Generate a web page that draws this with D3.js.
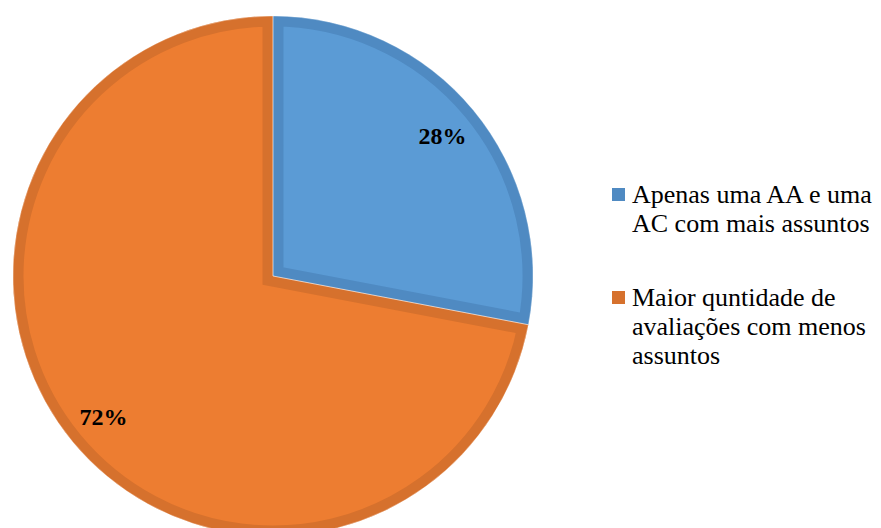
<!DOCTYPE html>
<html>
<head>
<meta charset="utf-8">
<script src="https://cdn.jsdelivr.net/npm/d3@7"></script>
<style>
  html, body { margin: 0; padding: 0; background: #ffffff; }
  svg { display: block; }
</style>
</head>
<body>
<svg id="chart" width="881" height="528"></svg>
<script>
// Share of respondents per assessment approach
const categories = ["Apenas uma AA e uma AC com mais assuntos", "Maior quntidade de avaliações com menos assuntos"];
const values = [28, 72];
// Legend text broken into the lines it is drawn on
const legendLines = [
  ["Apenas uma AA e uma", "AC com mais assuntos"],
  ["Maior quntidade de", "avaliações com menos", "assuntos"]
];
const fills = ["#5b9bd5", "#ed7d31"];
const borders = ["#4f8ac2", "#d6712d"];

// Pick the first installed Times-like face
function pickFont(candidates, fallback) {
  const ctx = document.createElement("canvas").getContext("2d");
  const sample = "Apenas uma AA e uma 28% avaliações";
  for (const bases of ["monospace", "sans-serif"]) {
    ctx.font = `40px ${bases}`;
    const base = ctx.measureText(sample).width;
    for (const f of candidates) {
      ctx.font = `40px "${f}", ${bases}`;
      if (Math.abs(ctx.measureText(sample).width - base) > 0.5) return `"${f}", serif`;
    }
  }
  return fallback;
}
const serif = pickFont(["Liberation Serif", "Times New Roman", "Tinos", "DejaVu Serif", "Noto Serif", "FreeSerif"], "serif");

const svg = d3.select("#chart");
const cx = 273, cy = 276, R = 260;

const pie = d3.pie().sort(null).value(d => d)(values);
const arc = d3.arc().innerRadius(0).outerRadius(R);
const labelArc = d3.arc().innerRadius(220).outerRadius(220);

const g = svg.append("g").attr("transform", `translate(${cx},${cy})`);
const defs = svg.append("defs");

pie.forEach((p, i) => {
  defs.append("clipPath").attr("id", "slice-clip-" + i)
    .append("path").attr("d", arc(p));
});

// Each slice: flat fill with a darker inner border (stroke clipped to the slice)
g.selectAll("path.slice")
  .data(pie)
  .join("path")
  .attr("class", "slice")
  .attr("d", arc)
  .attr("fill", (d, i) => fills[i])
  .attr("stroke", (d, i) => borders[i])
  .attr("stroke-width", 21)
  .attr("stroke-linejoin", "miter")
  .attr("clip-path", (d, i) => `url(#slice-clip-${i})`);

// Faint highlight along the slice edges
g.selectAll("path.edge")
  .data(pie)
  .join("path")
  .attr("class", "edge")
  .attr("d", arc)
  .attr("fill", "none")
  .attr("stroke", "#ffffff")
  .attr("stroke-opacity", 0.35)
  .attr("stroke-width", 1);

// Percentage labels
g.selectAll("text.value")
  .data(pie)
  .join("text")
  .attr("class", "value")
  .attr("transform", d => `translate(${labelArc.centroid(d)})`)
  .attr("text-anchor", "middle")
  .attr("dy", "0.35em")
  .style("font-family", serif)
  .style("font-weight", "bold")
  .style("font-size", "24px")
  .attr("fill", "#000000")
  .text(d => d.data + "%");

// Legend
const legend = svg.append("g").attr("transform", "translate(612,0)");
const legendTop = [203, 306];
const lineH = 29;
categories.forEach((c, i) => {
  const item = legend.append("g");
  item.append("rect")
    .attr("x", 0)
    .attr("y", legendTop[i] - 15)
    .attr("width", 13)
    .attr("height", 13)
    .attr("fill", borders[i]);
  const t = item.append("text")
    .attr("x", 20)
    .attr("y", legendTop[i])
    .style("font-family", serif)
    .style("font-size", "26px")
    .attr("fill", "#000000");
  legendLines[i].forEach((ln, j) => {
    t.append("tspan").attr("x", 20).attr("y", legendTop[i] + j * lineH).text(ln);
  });
});
</script>
</body>
</html>
